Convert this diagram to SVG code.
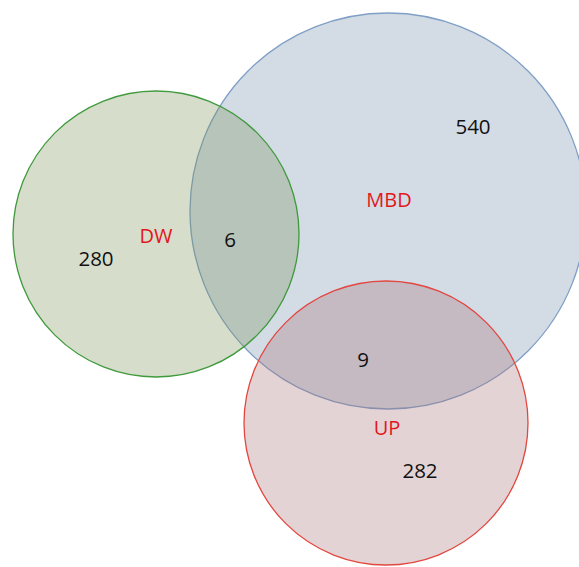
<svg xmlns="http://www.w3.org/2000/svg" width="579" height="567" viewBox="0 0 579 567">
<style>
.set{stroke-width:1.3;fill-opacity:0.3}
.lbl{font-family:"Open Sans","Liberation Sans",Arial,sans-serif;font-size:20px;fill:#e3161c;text-anchor:middle}
.num{font-family:"Open Sans","Liberation Sans",Arial,sans-serif;font-size:20.5px;fill:#111;text-anchor:middle}
</style>
<rect width="579" height="567" fill="#ffffff"/>
<g id="MBD">
<circle class="set" cx="388" cy="211" r="198" fill="#6c87a8" stroke="#7f9fc6"/>
</g>
<g id="DW">
<circle class="set" cx="156" cy="234" r="143" fill="#768e52" stroke="#3f9a3c"/>
</g>
<g id="UP">
<circle class="set" cx="386" cy="423" r="142" fill="#a56c70" stroke="#e2463f"/>
</g>
<g id="labels">
<text class="lbl" x="156" y="243">DW</text>
<text class="lbl" x="389" y="207">MBD</text>
<text class="lbl" x="387" y="435">UP</text>
<text class="num" x="96" y="266">280</text>
<text class="num" x="230" y="247">6</text>
<text class="num" x="473" y="134">540</text>
<text class="num" x="363" y="367">9</text>
<text class="num" x="420" y="478">282</text>
</g>
</svg>
